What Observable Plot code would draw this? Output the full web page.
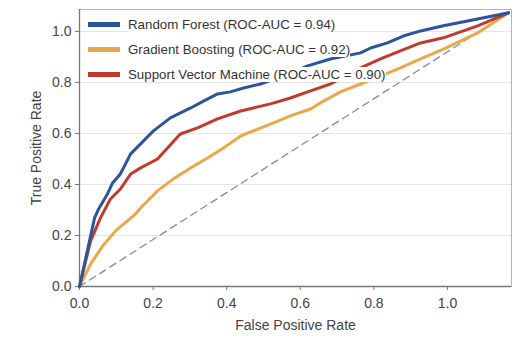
<!DOCTYPE html>
<html>
<head>
<meta charset="utf-8">
<script src="https://cdn.jsdelivr.net/npm/d3@7"></script>
<script src="https://cdn.jsdelivr.net/npm/@observablehq/plot@0.6"></script>
<style>
  html, body { margin: 0; padding: 0; background: #ffffff; }
  #wrap { position: relative; width: 526px; height: 349px; }
  #legend { position: absolute; left: 88px; top: 12px; font-family: "Liberation Sans", Arial, sans-serif; font-size: 13.3px; color: #333; }
  .row { display: flex; align-items: center; height: 25px; }
  .sw { width: 32px; height: 5px; margin-right: 8px; }
  .lab { background: #ffffff; line-height: 15px; }
</style>
</head>
<body>
<div id="wrap"><div id="legend"></div></div>
<script>
// Series names and colours
const seriesNames = ["Random Forest", "Gradient Boosting", "Support Vector Machine"];
const seriesAUC = [0.94, 0.92, 0.90];
const seriesColors = ["#2b559a", "#e9a94b", "#bf3b2f"];

// ROC curves (FPR, TPR)
const rfFPR = [0, 0.041, 0.052, 0.076, 0.090, 0.111, 0.139, 0.166, 0.201, 0.247, 0.302, 0.337, 0.375, 0.410, 0.446, 0.492, 0.546, 0.620, 0.682, 0.764, 0.791, 0.837, 0.880, 0.927, 0.989, 1.082, 1.166];
const rfTPR = [0, 0.269, 0.304, 0.363, 0.406, 0.441, 0.520, 0.559, 0.610, 0.661, 0.700, 0.727, 0.755, 0.763, 0.778, 0.794, 0.822, 0.865, 0.892, 0.916, 0.935, 0.955, 0.982, 1.002, 1.022, 1.049, 1.073];

const gbFPR = [0, 0.030, 0.063, 0.098, 0.152, 0.166, 0.212, 0.255, 0.302, 0.348, 0.391, 0.438, 0.465, 0.519, 0.573, 0.628, 0.655, 0.709, 0.764, 0.818, 0.872, 0.927, 0.989, 1.082, 1.166];
const gbTPR = [0, 0.088, 0.159, 0.218, 0.284, 0.308, 0.375, 0.422, 0.465, 0.504, 0.543, 0.590, 0.606, 0.637, 0.669, 0.696, 0.720, 0.763, 0.794, 0.825, 0.857, 0.892, 0.931, 0.994, 1.073];

const svmFPR = [0, 0.030, 0.057, 0.084, 0.111, 0.139, 0.166, 0.212, 0.239, 0.274, 0.321, 0.375, 0.438, 0.519, 0.573, 0.628, 0.682, 0.723, 0.764, 0.818, 0.872, 0.927, 0.989, 1.082, 1.166];
const svmTPR = [0, 0.178, 0.269, 0.343, 0.382, 0.441, 0.465, 0.500, 0.543, 0.598, 0.622, 0.657, 0.688, 0.716, 0.739, 0.767, 0.794, 0.825, 0.857, 0.892, 0.924, 0.955, 0.975, 1.022, 1.073];

// Chance diagonal
const diagFPR = [0, 1.166];
const diagTPR = [0, 1.073];

// Tick labels
const xTicks = [0, 0.2, 0.4, 0.6, 0.8, 1.0];
const yTicks = [0, 0.2, 0.4, 0.6, 0.8, 1.0];

const toRows = (xs, ys) => xs.map((x, i) => ({x, y: ys[i]}));
const rf = toRows(rfFPR, rfTPR);
const gb = toRows(gbFPR, gbTPR);
const svm = toRows(svmFPR, svmTPR);
const diag = toRows(diagFPR, diagTPR);

const chart = Plot.plot({
  width: 526,
  height: 349,
  marginLeft: 79,
  marginRight: 15,
  marginTop: 9,
  marginBottom: 63,
  x: {domain: [0, 1.174]},
  y: {domain: [0, 1.086]},
  style: {fontFamily: "'Liberation Sans', Arial, sans-serif", fontSize: "14px", color: "#444", background: "#ffffff"},
  marks: [
    Plot.gridY(yTicks, {stroke: "#e4e4e4", strokeOpacity: 1}),
    Plot.frame({stroke: "#b5b5b5"}),
    Plot.axisX(xTicks, {tickSize: 4, tickPadding: 8, tickFormat: d3.format(".1f"), stroke: "#777",
      label: "False Positive Rate", labelAnchor: "center", labelArrow: "none", labelOffset: 43, fill: "#444"}),
    Plot.axisY(yTicks, {tickSize: 4, tickPadding: 4, tickFormat: d3.format(".1f"), stroke: "#777",
      label: "True Positive Rate", labelAnchor: "center", labelArrow: "none", labelOffset: 48, fill: "#444"}),
    Plot.ruleX([0], {stroke: "#777", strokeWidth: 1.3}),
    Plot.ruleY([0], {stroke: "#777", strokeWidth: 1.3}),
    Plot.line(diag, {x: "x", y: "y", stroke: "#8a8a8a", strokeWidth: 1.3, strokeDasharray: "7,5"}),
    Plot.line(gb, {x: "x", y: "y", stroke: seriesColors[1], strokeWidth: 3, strokeLinejoin: "round"}),
    Plot.line(svm, {x: "x", y: "y", stroke: seriesColors[2], strokeWidth: 3, strokeLinejoin: "round"}),
    Plot.line(rf, {x: "x", y: "y", stroke: seriesColors[0], strokeWidth: 3, strokeLinejoin: "round"})
  ]
});
document.getElementById("wrap").prepend(chart);

const legend = document.getElementById("legend");
seriesNames.forEach((name, i) => {
  const row = document.createElement("div");
  row.className = "row";
  const sw = document.createElement("div");
  sw.className = "sw";
  sw.style.background = seriesColors[i];
  const lab = document.createElement("span");
  lab.className = "lab";
  lab.textContent = `${name} (ROC-AUC = ${seriesAUC[i].toFixed(2)})`;
  row.appendChild(sw);
  row.appendChild(lab);
  legend.appendChild(row);
});
</script>
</body>
</html>
